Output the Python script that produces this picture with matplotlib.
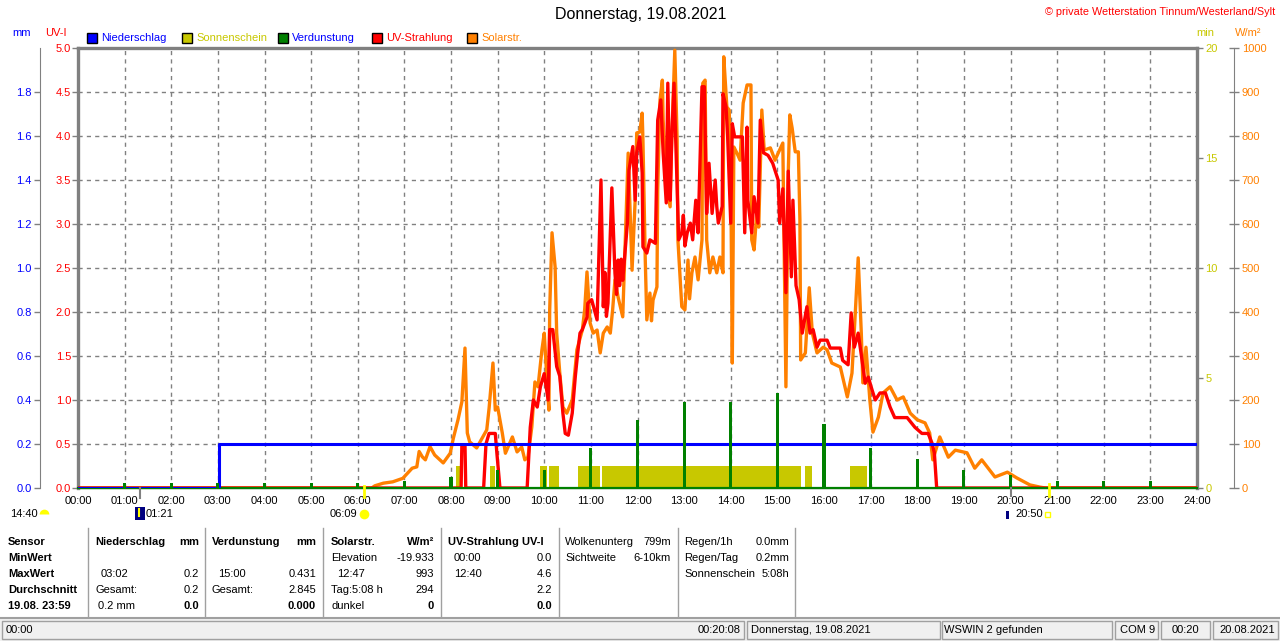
import matplotlib
matplotlib.use("Agg")
import matplotlib.pyplot as plt
from matplotlib.patches import Rectangle
from matplotlib.lines import Line2D

plt.rcParams['font.family'] = ['Liberation Sans', 'DejaVu Sans']

# ---- Daten (Zeit in Minuten nach Mitternacht) ----
hour_ticks = list(range(0, 1441, 60))
hour_labels = ["%02d:00" % h for h in range(25)]

rain_time = [0, 182, 182, 1440]
rain_mm = [0.0, 0.0, 0.2, 0.2]

evap_time = [60, 120, 180, 240, 300, 360, 420, 480, 540, 600, 660, 720,
             780, 840, 900, 960, 1020, 1080, 1140, 1200, 1260, 1320, 1380]
evap_mm = [0.025, 0.025, 0.025, 0.025, 0.025, 0.025, 0.03, 0.05, 0.08, 0.08,
           0.18, 0.31, 0.39, 0.39, 0.43, 0.29, 0.18, 0.13, 0.08, 0.06,
           0.03, 0.03, 0.03]

sun_start = [486, 530, 595, 606, 643, 674, 936, 994]
sun_end = [494, 537, 604, 619, 672, 930, 945, 1015]
sun_min = [1.0, 1.0, 1.0, 1.0, 1.0, 1.0, 1.0, 1.0]

sol_time = [0, 378, 382, 393, 405, 418, 430, 436, 439, 443, 447, 453, 459, 470,
            479, 483, 489, 494, 498, 501, 504, 513, 520, 526, 529, 534, 537,
            540, 546, 550, 559, 565, 571, 575, 579, 584, 588, 592, 597, 600,
            604, 606, 607, 610, 614, 616, 620, 624, 629, 636, 642, 649, 652,
            655, 659, 663, 668, 672, 676, 681, 685, 688, 691, 695, 701, 708,
            713, 717, 719, 723, 726, 727, 730, 732, 736, 738, 740, 745, 746, 749,
            752, 753, 758, 762, 764, 768, 771, 772, 775, 777, 781, 785, 787, 790,
            794, 798, 803, 804, 807, 809, 813, 817, 822, 826, 830, 831, 835,
            838, 840, 842, 844, 848, 852, 856, 861, 866, 867, 870, 874, 876,
            880, 883, 891, 897, 901, 907, 911, 914, 916, 919, 923, 927, 929,
            930, 936, 941, 945, 951, 959, 964, 970, 981, 990, 996, 1000, 1004,
            1008, 1010, 1014, 1019, 1023, 1030, 1036, 1045, 1054, 1062, 1071,
            1080, 1090, 1096, 1100, 1109, 1120, 1129, 1144, 1154, 1163, 1170,
            1180, 1196, 1208, 1225, 1238, 1245, 1440]
sol_wm2 = [0, 0, 5, 11, 14, 22, 45, 48, 83, 71, 64, 94, 75, 57,
           79, 113, 155, 196, 318, 125, 105, 91, 113, 132, 181, 284, 177,
           184, 125, 79, 116, 82, 93, 64, 70, 139, 241, 230, 314, 352,
           230, 177, 405, 580, 502, 352, 261, 184, 170, 200, 314, 359, 405,
           491, 375, 352, 359, 307, 352, 366, 352, 405, 473, 434, 389, 761,
           495, 655, 807, 809, 852, 791, 518, 382, 443, 380, 427, 457, 677, 882,
           927, 836, 677, 639, 791, 995, 791, 564, 473, 412, 405, 518, 430, 489,
           525, 473, 564, 920, 927, 564, 489, 525, 489, 525, 489, 980, 866,
           859, 716, 284, 775, 761, 745, 875, 916, 916, 564, 541, 639, 593,
           859, 768, 773, 745, 761, 784, 230, 716, 848, 818, 764, 764, 609,
           291, 307, 455, 352, 307, 320, 314, 284, 275, 207, 261, 389, 523,
           352, 239, 320, 200, 127, 161, 216, 230, 200, 207, 170,
           155, 148, 125, 64, 116, 70, 86, 80, 45, 64, 48,
           25, 36, 23, 7, 2, 0, 0]

uv_time = [0, 493, 494, 498, 499, 522, 525, 529, 537, 539, 543, 578, 582, 586,
           591, 595, 600, 605, 607, 611, 616, 620, 624, 627, 631, 636, 640,
           643, 646, 649, 655, 656, 661, 668, 673, 676, 678, 680, 682, 687, 691,
           693, 695, 697, 699, 701, 707, 709, 714, 717, 719, 723, 726, 727, 732,
           736, 743, 746, 750, 753, 757, 759, 762, 764, 767, 771, 773, 777, 779,
           781, 784, 788, 791, 795, 798, 803, 806, 809, 812, 816, 820, 822, 824,
           829, 830, 834, 836, 840, 842, 845, 855, 858, 861, 862, 867, 870, 875,
           878, 882, 888, 894, 901, 903, 907, 911, 914, 918, 920, 924, 928, 932,
           938, 942, 946, 951, 955, 964, 968, 981, 984, 991, 995, 999, 1004,
           1009, 1013, 1017, 1022, 1026, 1032, 1039, 1045, 1051, 1067, 1077,
           1086, 1094, 1099, 1102, 1105, 1440]
uv_index = [0, 0, 0.49, 0.49, 0, 0, 0.5, 0.62, 0.62, 0.4, 0, 0, 0.69, 1.0,
            0.92, 1.15, 1.3, 1.0, 1.8, 1.8, 1.38, 1.27, 0.85, 0.62, 0.6, 0.85, 1.27,
            1.53, 1.76, 1.8, 1.94, 2.1, 2.14, 1.91, 3.5, 2.06, 2.45, 1.95, 2.1, 3.41,
            2.44, 2.2, 2.59, 2.3, 2.6, 2.36, 3.01, 3.61, 3.88, 3.27, 3.81, 3.99, 3.58,
            2.74, 2.67, 2.82, 2.78, 4.18, 4.41, 3.81, 3.24, 4.6, 3.27, 3.95, 4.6, 3.39,
            2.82, 2.9, 3.1, 2.75, 2.9, 3.01, 2.82, 3.27, 2.9, 4.56, 4.56, 3.12, 3.69,
            3.12, 3.5, 3.2, 3.01, 3.2, 4.48, 4.33, 3.99, 3.01, 4.14, 3.99, 3.99, 2.9,
            4.1, 3.27, 2.9, 3.31, 3.01, 4.18, 3.81, 3.78, 3.69, 3.5, 3.01, 3.4, 2.22,
            3.6, 2.4, 3.27, 2.3, 2.14, 1.76, 2.06, 1.76, 1.8, 1.6, 1.68, 1.68, 1.59,
            1.59, 1.45, 1.4, 1.99, 1.6, 1.76, 1.45, 1.19, 1.26, 1.11, 1.0, 1.08,
            1.08, 0.92, 0.8, 0.8, 0.69, 0.62, 0.62, 0.51, 0.4, 0.0, 0.0]

# Tabelle
col_lines = [88, 205, 323, 441, 559, 678, 795]
sensor_rows = ["Sensor", "MinWert", "MaxWert", "Durchschnitt", "19.08. 23:59"]
row_y = [542, 558, 574, 590, 606]

C_BLUE, C_OLIVE, C_GREEN, C_RED, C_ORANGE = "#0000ff", "#c8c800", "#008000", "#ff0000", "#ff8000"
C_GRID = "#808080"

W, H = 1280, 641
fig = plt.figure(figsize=(12.8, 6.41), dpi=100)


def fx(x):
    return x / W


def fy(y):
    return 1 - y / H


def txt(x, y, s, ha='left', color='black', size=8, weight='normal'):
    fig.text(fx(x), fy(y), s, ha=ha, va='center', color=color, fontsize=size, fontweight=weight)


ax = fig.add_axes([fx(78), fy(488), 1119 / W, 440 / H])
ax.set_xlim(0, 1440)
ax.set_ylim(0, 5)
ax.set_xticks(hour_ticks)
ax.set_xticklabels(hour_labels)
ax.set_yticks([i * 0.5 for i in range(11)])
ax.set_yticklabels(["%.1f" % (i * 0.5) for i in range(11)])
ax.grid(True, color=C_GRID, linestyle=(0, (3, 3)), lw=1)
ax.tick_params(axis='x', length=0, pad=6, labelsize=8)
ax.tick_params(axis='y', length=4, width=1, color=C_GRID, labelcolor=C_RED, labelsize=8, pad=1)
for s in ['left', 'top', 'right']:
    ax.spines[s].set_color(C_GRID)
    ax.spines[s].set_linewidth(2.4)
ax.spines['bottom'].set_color(C_GRID)
ax.spines['bottom'].set_linewidth(1)

# Sonnenschein
ax_min = ax.twinx()
ax_min.set_ylim(0, 20)
ax_min.set_yticks([0, 5, 10, 15, 20])
ax_min.tick_params(axis='y', length=4, width=1, color=C_GRID, labelcolor=C_OLIVE, labelsize=8, pad=2)
for s in ax_min.spines.values():
    s.set_visible(False)
ax_min.bar(sun_start, sun_min, width=[e - s for s, e in zip(sun_start, sun_end)],
           align='edge', color=C_OLIVE, lw=0)

# Solarstrahlung
ax_sol = ax.twinx()
ax_sol.set_ylim(0, 1000)
ax_sol.set_yticks(range(0, 1001, 100))
for s in ax_sol.spines.values():
    s.set_visible(False)
ax_sol.spines['right'].set_visible(True)
ax_sol.spines['right'].set_position(('axes', (1234 - 78) / 1119))
ax_sol.spines['right'].set_color(C_GRID)
ax_sol.tick_params(axis='y', direction='inout', length=7, width=1, color=C_GRID,
                   labelcolor=C_ORANGE, labelsize=8, pad=2)
ax_sol.plot(sol_time, sol_wm2, color=C_ORANGE, lw=2.4)

# UV-Strahlung
ax_uv = ax.twinx()
ax_uv.set_ylim(0, 5)
ax_uv.set_axis_off()
ax_uv.plot(uv_time, uv_index, color=C_RED, lw=2.4)

# Niederschlag / Verdunstung
ax_mm = ax.twinx()
ax_mm.set_ylim(0, 2)
ax_mm.yaxis.tick_left()
ax_mm.set_yticks([i * 0.2 for i in range(10)])
ax_mm.set_yticklabels(["%.1f" % (i * 0.2) for i in range(10)])
for s in ax_mm.spines.values():
    s.set_visible(False)
ax_mm.spines['left'].set_visible(True)
ax_mm.spines['left'].set_position(('axes', (40 - 78) / 1119))
ax_mm.spines['left'].set_color(C_GRID)
ax_mm.tick_params(axis='y', length=4, width=1, color=C_GRID, labelcolor=C_BLUE, labelsize=8, pad=2)
ax_mm.axhline(0, color=C_GREEN, lw=1.6, clip_on=False, zorder=1)
ax_mm.plot(rain_time, rain_mm, color=C_BLUE, lw=2.2, zorder=2)
ax_mm.bar(evap_time, evap_mm, width=4, color=C_GREEN, lw=0, zorder=3)

# Achsenbeschriftungen oben
txt(22, 33, "mm", ha='center', color=C_BLUE)
txt(56, 33, "UV-I", ha='center', color=C_RED)
txt(1205, 33, "min", ha='center', color=C_OLIVE)
txt(1248, 33, "W/m²", ha='center', color=C_ORANGE)

# Legende
legend = [(87, "Niederschlag", C_BLUE, C_BLUE), (182, "Sonnenschein", C_OLIVE, C_OLIVE),
          (278, "Verdunstung", C_GREEN, C_BLUE), (372, "UV-Strahlung", C_RED, C_RED),
          (467, "Solarstr.", C_ORANGE, C_ORANGE)]
for x0, label, box, tc in legend:
    fig.patches.append(Rectangle((fx(x0), fy(43)), 10 / W, 10 / H, transform=fig.transFigure,
                                 facecolor=box, edgecolor='black', lw=1))
    txt(x0 + 14, 38, label, color=tc)

fig.text(fx(641), fy(15), "Donnerstag, 19.08.2021", ha='center', va='center', fontsize=11.5)
txt(1275, 12, "© private Wetterstation Tinnum/Westerland/Sylt", ha='right', color=C_RED, size=7.8)

# Sonnen-/Mondzeiten unter der Achse
fig.add_artist(Line2D([fx(140), fx(140)], [fy(488), fy(498)], color=C_GRID, lw=1.5))
fig.add_artist(Line2D([fx(364), fx(364)], [fy(486), fy(497)], color='#ffff00', lw=2))
fig.add_artist(Line2D([fx(1049), fx(1049)], [fy(484), fy(496)], color='#ffff00', lw=2))
fig.add_artist(Line2D([fx(1011), fx(1011)], [fy(488), fy(496)], color=C_GRID, lw=1.5))
txt(10, 514, "14:40")
fig.add_artist(Line2D([fx(44)], [fy(514)], marker='o', ms=7, fillstyle='top', color='#ffff00',
                      mew=0, transform=fig.transFigure))
fig.patches.append(Rectangle((fx(135), fy(520)), 10 / W, 13 / H, transform=fig.transFigure,
                             facecolor='#000080', lw=0))
fig.add_artist(Line2D([fx(139), fx(139)], [fy(509), fy(516)], color='#ffff00', lw=1.5))
txt(146, 514, "01:21")
txt(330, 514, "06:09")
fig.add_artist(Line2D([fx(364)], [fy(514)], marker='o', ms=7, color='#ffff00', mew=0,
                      transform=fig.transFigure))
fig.patches.append(Rectangle((fx(1006), fy(519)), 2.5 / W, 8 / H, transform=fig.transFigure,
                             facecolor='#000080', lw=0))
txt(1015, 514, "20:50")
fig.patches.append(Rectangle((fx(1045), fy(517)), 5 / W, 5 / H, transform=fig.transFigure,
                             facecolor='white', edgecolor='#ffff00', lw=1))

# Tabelle
for x in col_lines:
    fig.add_artist(Line2D([fx(x), fx(x)], [fy(528), fy(616)], color='#a0a0a0', lw=1))
for s, y in zip(sensor_rows, row_y):
    txt(8, y, s, weight='bold')

cells = [
    (95, 542, "Niederschlag", 'left', True), (199, 542, "mm", 'right', True),
    (101, 574, "03:02", 'left', False), (199, 574, "0.2", 'right', False),
    (95, 590, "Gesamt:", 'left', False), (199, 590, "0.2", 'right', False),
    (98, 606, "0.2 mm", 'left', False), (199, 606, "0.0", 'right', True),
    (212, 542, "Verdunstung", 'left', True), (316, 542, "mm", 'right', True),
    (218, 574, "15:00", 'left', False), (316, 574, "0.431", 'right', False),
    (212, 590, "Gesamt:", 'left', False), (316, 590, "2.845", 'right', False),
    (316, 606, "0.000", 'right', True),
    (331, 542, "Solarstr.", 'left', True), (434, 542, "W/m²", 'right', True),
    (331, 558, "Elevation", 'left', False), (434, 558, "-19.933", 'right', False),
    (337, 574, "12:47", 'left', False), (434, 574, "993", 'right', False),
    (331, 590, "Tag:5:08 h", 'left', False), (434, 590, "294", 'right', False),
    (331, 606, "dunkel", 'left', False), (434, 606, "0", 'right', True),
    (448, 542, "UV-Strahlung UV-I", 'left', True),
    (454, 558, "00:00", 'left', False), (552, 558, "0.0", 'right', False),
    (454, 574, "12:40", 'left', False), (552, 574, "4.6", 'right', False),
    (552, 590, "2.2", 'right', False), (552, 606, "0.0", 'right', True),
    (565, 542, "Wolkenunterg", 'left', False), (671, 542, "799m", 'right', False),
    (565, 558, "Sichtweite", 'left', False), (671, 558, "6-10km", 'right', False),
    (684, 542, "Regen/1h", 'left', False), (789, 542, "0.0mm", 'right', False),
    (684, 558, "Regen/Tag", 'left', False), (789, 558, "0.2mm", 'right', False),
    (684, 574, "Sonnenschein", 'left', False), (789, 574, "5:08h", 'right', False),
]
for x, y, s, ha, bold in cells:
    txt(x, y, s, ha=ha, weight='bold' if bold else 'normal')

# Statusleiste
fig.patches.append(Rectangle((0, 0), 1, fy(619), transform=fig.transFigure,
                             facecolor='#f0f0f0', lw=0))
fig.add_artist(Line2D([0, 1], [fy(618), fy(618)], color='#a0a0a0', lw=1.5))
panels = [(2, 744), (747, 940), (942, 1112), (1115, 1158), (1161, 1210), (1213, 1278)]
for x0, x1 in panels:
    fig.patches.append(Rectangle((fx(x0), fy(639)), (x1 - x0) / W, 18 / H, transform=fig.transFigure,
                                 facecolor='#f0f0f0', edgecolor='#a0a0a0', lw=1))
txt(6, 630, "00:00")
txt(741, 630, "00:20:08", ha='right')
txt(751, 630, "Donnerstag, 19.08.2021")
txt(944, 630, "WSWIN 2 gefunden")
txt(1120, 630, "COM 9")
txt(1185, 630, "00:20", ha='center')
txt(1219, 630, "20.08.2021")

fig.savefig("out.png", dpi=100)
